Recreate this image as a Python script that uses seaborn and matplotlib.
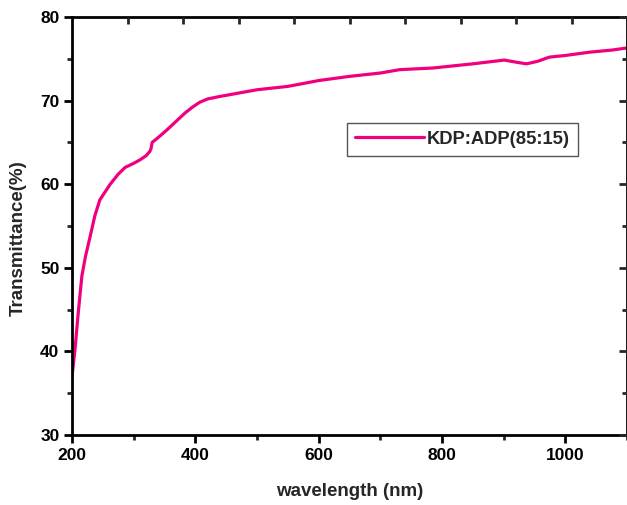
import matplotlib
matplotlib.use("Agg")
import matplotlib.pyplot as plt
from matplotlib.ticker import MultipleLocator, FixedLocator, NullFormatter
import seaborn as sns
import pandas as pd

wavelength = [200, 205, 210, 216, 222, 229, 237, 245, 253, 262, 275, 286, 300, 310, 320,
              326, 328, 330, 340, 354, 370, 383, 395, 407, 420, 440, 470, 500, 550, 600,
              650, 700, 731, 785, 850, 901, 920, 937, 955, 974, 1000, 1040, 1076, 1100]
transmittance = [37.0, 40.3, 44.5, 49.0, 51.4, 53.6, 56.2, 58.1, 59.0, 60.0, 61.2, 62.0, 62.5,
                 62.9, 63.4, 63.9, 64.2, 65.0, 65.6, 66.5, 67.6, 68.5, 69.2, 69.8, 70.2, 70.5,
                 70.9, 71.3, 71.7, 72.4, 72.9, 73.3, 73.7, 73.9, 74.4, 74.85, 74.6, 74.4, 74.7,
                 75.2, 75.4, 75.8, 76.05, 76.3]
series_label = "KDP:ADP(85:15)"
x_ticks = [200, 400, 600, 800, 1000]
y_ticks = [30, 40, 50, 60, 70, 80]
top_ticks = [290.7, 380.7, 470.7, 560.7, 650.7, 740.7, 830.7, 920.7, 1010.7]

df = pd.DataFrame({"wavelength": wavelength, "T": transmittance, "s": series_label})

sns.set_style("ticks")
plt.rcParams["font.family"] = ["Liberation Sans", "DejaVu Sans"]
plt.rcParams["font.weight"] = "bold"

fig = plt.figure(figsize=(6.27, 5.05), dpi=100)
ax = fig.add_axes([0.1148, 0.1386, 0.8852, 0.8277])

sns.lineplot(data=df, x="wavelength", y="T", hue="s", palette=["#F0007F"],
             linewidth=2.3, ax=ax, legend=True)

ax.set_xlim(200, 1100)
ax.set_ylim(30, 80)
ax.set_xticks(x_ticks)
ax.set_yticks(y_ticks)
ax.xaxis.set_minor_locator(MultipleLocator(100))
ax.yaxis.set_minor_locator(MultipleLocator(5))
ax.tick_params(axis="both", which="major", direction="out", length=6, width=2,
               labelsize=12.5, pad=3, colors="black")
ax.tick_params(axis="both", which="minor", direction="out", length=3.5, width=2)
for lab in ax.get_xticklabels() + ax.get_yticklabels():
    lab.set_fontweight("bold")

for sp in ax.spines.values():
    sp.set_visible(True)
    sp.set_linewidth(2)
    sp.set_color("black")

ax.set_xlabel("wavelength (nm)", fontsize=13.5, fontweight="bold")
ax.set_ylabel("Transmittance(%)", fontsize=13.5, fontweight="bold")
ax.xaxis.set_label_coords(0.5, -0.136)
ax.yaxis.set_label_coords(-0.097, 0.471)
ax.xaxis.label.set_va("center")
ax.yaxis.label.set_va("center")

# top ticks (inward)
axt = ax.twiny()
axt.set_xlim(ax.get_xlim())
axt.xaxis.set_major_locator(FixedLocator(top_ticks))
axt.xaxis.set_major_formatter(NullFormatter())
axt.tick_params(axis="x", direction="in", length=5, width=2, top=True)
axt.grid(False)
for sp in axt.spines.values():
    sp.set_visible(False)

# right ticks (inward)
axr = ax.twinx()
axr.set_ylim(ax.get_ylim())
axr.set_yticks(y_ticks)
axr.yaxis.set_minor_locator(MultipleLocator(5))
axr.yaxis.set_major_formatter(NullFormatter())
axr.tick_params(axis="y", which="major", direction="in", length=6, width=2, right=True)
axr.tick_params(axis="y", which="minor", direction="in", length=3.5, width=2)
for sp in axr.spines.values():
    sp.set_visible(False)

leg = ax.legend(loc="upper left", bbox_to_anchor=(0.4955, 0.746), borderaxespad=0,
                frameon=True, fancybox=False, edgecolor="#555555", framealpha=1,
                prop={"weight": "bold", "size": 13.2}, handlelength=3.8,
                borderpad=0.42, handletextpad=0.15)
leg.get_frame().set_linewidth(1.0)
for h in leg.get_lines():
    h.set_linewidth(2.3)

fig.savefig("out.png", dpi=100)
